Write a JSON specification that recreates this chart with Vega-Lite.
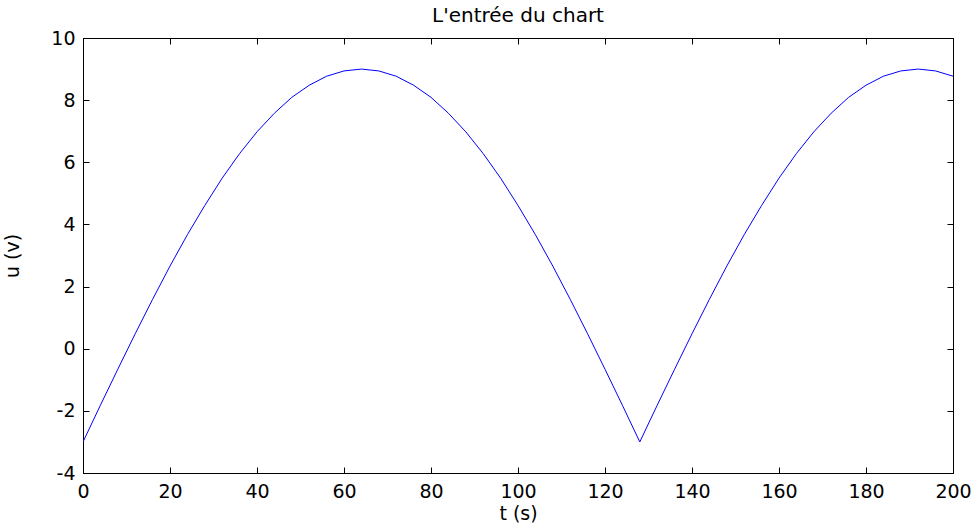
{
  "$schema": "https://vega.github.io/schema/vega-lite/v6.json",
  "width": 870,
  "height": 435,
  "autosize": "none",
  "padding": {"left": 83, "top": 38, "right": 27, "bottom": 50},
  "background": "white",
  "title": {"text": "L'entrée du chart", "font": "DejaVu Sans", "fontSize": 20, "fontWeight": "normal", "color": "black", "offset": 3, "anchor": "middle"},
  "config": {
    "view": {"stroke": "black", "strokeWidth": 1},
    "axis": {"grid": false, "domainColor": "black", "tickColor": "black", "labelColor": "black", "titleColor": "black", "labelFont": "DejaVu Sans", "labelFontSize": 19, "titleFont": "DejaVu Sans", "titleFontSize": 19, "titleFontWeight": "normal", "tickSize": -6, "labelExpr": "replace(datum.label, '\u2212', '-')"}
  },
  "data": {"values": [
    {"t": 0, "u": -3}, {"t": 4, "u": -1.82}, {"t": 8, "u": -0.66}, {"t": 12, "u": 0.48}, {"t": 16, "u": 1.59},
    {"t": 20, "u": 2.66}, {"t": 24, "u": 3.67}, {"t": 28, "u": 4.61}, {"t": 32, "u": 5.49}, {"t": 36, "u": 6.28},
    {"t": 40, "u": 6.98}, {"t": 44, "u": 7.58}, {"t": 48, "u": 8.09}, {"t": 52, "u": 8.48}, {"t": 56, "u": 8.77},
    {"t": 60, "u": 8.94}, {"t": 64, "u": 9}, {"t": 68, "u": 8.94}, {"t": 72, "u": 8.77}, {"t": 76, "u": 8.48},
    {"t": 80, "u": 8.09}, {"t": 84, "u": 7.58}, {"t": 88, "u": 6.98}, {"t": 92, "u": 6.28}, {"t": 96, "u": 5.49},
    {"t": 100, "u": 4.61}, {"t": 104, "u": 3.67}, {"t": 108, "u": 2.66}, {"t": 112, "u": 1.59}, {"t": 116, "u": 0.48},
    {"t": 120, "u": -0.66}, {"t": 124, "u": -1.82}, {"t": 128, "u": -3}, {"t": 132, "u": -1.82}, {"t": 136, "u": -0.66},
    {"t": 140, "u": 0.48}, {"t": 144, "u": 1.59}, {"t": 148, "u": 2.66}, {"t": 152, "u": 3.67}, {"t": 156, "u": 4.61},
    {"t": 160, "u": 5.49}, {"t": 164, "u": 6.28}, {"t": 168, "u": 6.98}, {"t": 172, "u": 7.58}, {"t": 176, "u": 8.09},
    {"t": 180, "u": 8.48}, {"t": 184, "u": 8.77}, {"t": 188, "u": 8.94}, {"t": 192, "u": 9}, {"t": 196, "u": 8.94},
    {"t": 200, "u": 8.77}
  ]},
  "layer": [
    {
      "mark": {"type": "line", "color": "#0000ff", "strokeWidth": 1, "clip": true},
      "encoding": {
        "x": {"field": "t", "type": "quantitative", "scale": {"domain": [0, 200], "nice": false, "zero": false},
              "axis": {"orient": "bottom", "values": [0, 20, 40, 60, 80, 100, 120, 140, 160, 180, 200], "title": "t (s)", "labelPadding": 15, "titlePadding": 3, "labelFlush": false}},
        "y": {"field": "u", "type": "quantitative", "scale": {"domain": [-4, 10], "nice": false, "zero": false},
              "axis": {"orient": "left", "values": [-4, -2, 0, 2, 4, 6, 8, 10], "title": "u (v)", "labelPadding": 14, "titlePadding": 28, "labelFlush": false}}
      }
    },
    {
      "mark": {"type": "line", "strokeOpacity": 0},
      "encoding": {
        "x": {"field": "t", "type": "quantitative", "scale": {"domain": [0, 200], "nice": false, "zero": false},
              "axis": {"orient": "top", "values": [0, 20, 40, 60, 80, 100, 120, 140, 160, 180, 200], "labels": false, "title": null}},
        "y": {"field": "u", "type": "quantitative", "scale": {"domain": [-4, 10], "nice": false, "zero": false},
              "axis": {"orient": "right", "values": [-4, -2, 0, 2, 4, 6, 8, 10], "labels": false, "title": null}}
      }
    }
  ],
  "resolve": {"axis": {"x": "independent", "y": "independent"}}
}
